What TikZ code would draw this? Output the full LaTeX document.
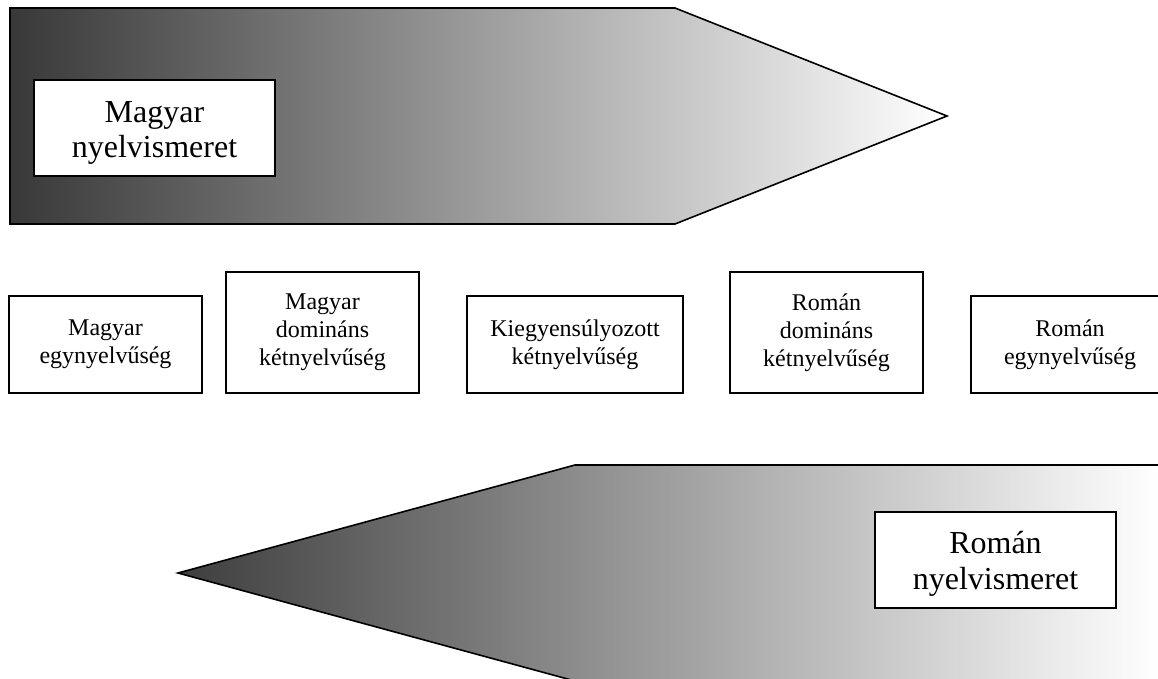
\documentclass[tikz,border=0pt]{standalone}
\usepackage{fontspec}
\setmainfont{Liberation Serif}
\definecolor{darkgrey}{RGB}{56,56,56}
\definecolor{tipgrey}{RGB}{62,62,62}
\begin{document}
\begin{tikzpicture}[x=1pt,y=-1pt,
  outline/.style={draw=black,line width=1.6pt,line join=miter},
  bigbox/.style={draw=black,line width=1.6pt,fill=white,inner sep=0pt,
    minimum width=241pt,minimum height=96pt},
  bigtext/.style={align=center,inner sep=0pt,font=\fontsize{32}{35.6}\selectfont},
  smallbox/.style={draw=black,line width=1.6pt,fill=white,align=center,inner sep=0pt,
    minimum width=193pt,font=\fontsize{24}{27.8}\selectfont},
  lowbox/.style={smallbox,minimum height=97pt},
  highbox/.style={smallbox,minimum height=121pt}]
\useasboundingbox (0,0) rectangle (1158,679);
\clip (0,0) rectangle (1158,679);
% top arrow (Magyar)
\path[left color=darkgrey,right color=white,outline]
  (10,8) -- (675,8) -- (947,116) -- (675,224) -- (10,224) -- cycle;
% bottom arrow (Roman)
\path[left color=tipgrey,right color=white]
  (1160,465) -- (575,465) -- (178,573) -- (575,681) -- (1160,681) -- cycle;
\draw[outline] (1170,465) -- (575,465) -- (178,573) -- (575,681) -- (1170,681);
% labels inside arrows
\node[bigbox] (hu) at (154.5,128) {};
\node[bigtext,yshift=-5pt] (hut) at (hu.center) {Magyar\\nyelvismeret};
\node[bigbox] (ro) at (995.5,560) {};
\node[bigtext,yshift=-4pt] (rot) at (ro.center) {Román\\nyelvismeret};
% scale boxes
\node[lowbox] (b1) at (105.5,344.5) {Magyar\\egynyelvűség};
\node[highbox] (b2) at (322.5,332.5) {Magyar\\domináns\\kétnyelvűség};
\node[lowbox,minimum width=216pt] (b3) at (575,344.5) {Kiegyensúlyozott\\kétnyelvűség};
\node[highbox] (b4) at (826.5,332.5) {Román\\domináns\\kétnyelvűség};
\node[lowbox,minimum width=198pt] (b5) at (1070,344.5) {Román\\egynyelvűség};
\end{tikzpicture}
\end{document}
